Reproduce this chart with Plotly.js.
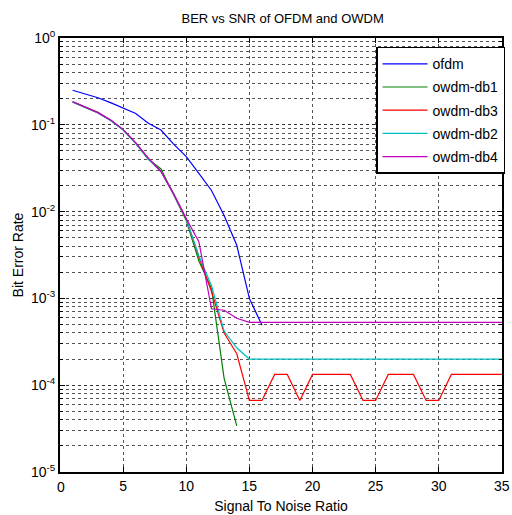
<!DOCTYPE html>
<html>
<head>
<meta charset="utf-8">
<script src="https://cdn.plot.ly/plotly-3.0.1.min.js"></script>
<style>html,body{margin:0;padding:0;background:#fff;}#chart{width:512px;height:515px;}</style>
</head>
<body>
<div id="chart"></div>
<script>
const snrOfdm = [1,2,3,4,5,6,7,8,9,10,11,12,13,14,15,16];
const berOfdm = [0.25,0.227,0.205,0.18,0.157,0.135,0.104,0.087,0.06,0.043,0.0275,0.0175,0.009,0.0041,0.001,0.00049];

const snrDb1 = [1,2,3,4,5,6,7,8,9,10,11,12,13,14];
const berDb1 = [0.184,0.16,0.139,0.113,0.088,0.061,0.040,0.031,0.016,0.0079,0.0027,0.0013,0.00012,0.000034];

const snrFull = [1,2,3,4,5,6,7,8,9,10,11,12,13,14,15,16,17,18,19,20,21,22,23,24,25,26,27,28,29,30,31,32,33,34,35];
const berDb3 = [0.183,0.16,0.138,0.113,0.088,0.062,0.041,0.029,0.016,0.0082,0.003,0.0012,0.0004,0.00023,
  0.0000667,0.0000667,0.000133,0.000133,0.0000667,0.000133,0.000133,0.000133,0.000133,0.0000667,0.0000667,
  0.000133,0.000133,0.000133,0.0000667,0.0000667,0.000133,0.000133,0.000133,0.000133,0.000133];
const berDb2 = [0.182,0.159,0.137,0.112,0.087,0.061,0.040,0.029,0.0158,0.0082,0.0031,0.0014,0.00042,0.00027,
  0.0002,0.0002,0.0002,0.0002,0.0002,0.0002,0.0002,0.0002,0.0002,0.0002,0.0002,
  0.0002,0.0002,0.0002,0.0002,0.0002,0.0002,0.0002,0.0002,0.0002,0.0002];
const berDb4 = [0.185,0.161,0.138,0.114,0.088,0.062,0.041,0.029,0.016,0.0083,0.0045,0.00076,0.00073,0.00059,
  0.00053,0.00053,0.00053,0.00053,0.00053,0.00053,0.00053,0.00053,0.00053,0.00053,0.00053,
  0.00053,0.00053,0.00053,0.00053,0.00053,0.00053,0.00053,0.00053,0.00053,0.00053];

const yTickVals = [1e-5,1e-4,1e-3,1e-2,1e-1,1];
const yTickText = ['10<sup>-5</sup>','10<sup>-4</sup>','10<sup>-3</sup>','10<sup>-2</sup>','10<sup>-1</sup>','10<sup>0</sup>'];
const xTickVals = [5,10,15,20,25,30,35];
const xTickText = ['5','10','15','20','25','30','35'];
const xOriginLabel = '0';

const FONT = 'Liberation Sans, Arial, sans-serif';

function tr(x, y, name, color, g) {
  return {x: x, y: y, name: name, type: 'scatter', mode: 'lines',
    line: {color: color, width: 1.2}, legendgroup: g};
}

const data = [
  tr(snrOfdm, berOfdm, 'ofdm', '#0000ff', 'a'),
  tr(snrDb1, berDb1, 'owdm-db1', '#008000', 'b'),
  tr(snrFull, berDb3, 'owdm-db3', '#ff0000', 'c'),
  tr(snrFull, berDb2, 'owdm-db2', '#00bfbf', 'd'),
  tr(snrFull, berDb4, 'owdm-db4', '#bf00bf', 'e')
];

const layout = {
  width: 512, height: 515,
  margin: {l: 60, r: 7, t: 38, b: 43, pad: 0},
  paper_bgcolor: '#fff', plot_bgcolor: '#fff',
  font: {family: FONT, size: 14, color: '#000'},
  title: {text: 'BER vs SNR of OFDM and OWDM', font: {family: FONT, size: 13}, x: 0.552, xanchor: 'center', y: 0.965, yanchor: 'middle'},
  showlegend: true,
  legend: {x: 0.715, y: 0.98, xanchor: 'left', yanchor: 'top', bgcolor: '#fff',
    bordercolor: '#000', borderwidth: 1.5, font: {family: FONT, size: 14}, tracegroupgap: 2, itemwidth: 45},
  xaxis: {range: [0, 35.01], tickvals: xTickVals, ticktext: xTickText, ticks: 'inside', ticklen: 5, tickcolor: '#000',
    showline: true, linecolor: '#000', linewidth: 2, mirror: 'ticks',
    showgrid: true, gridcolor: '#555', griddash: 'dot', gridwidth: 1, zeroline: false,
    tickfont: {family: FONT, size: 14},
    title: {text: 'Signal To Noise Ratio', font: {family: FONT, size: 14}, standoff: 8}},
  yaxis: {type: 'log', range: [-5, 0], tickvals: yTickVals, ticktext: yTickText,
    ticks: 'inside', ticklen: 5, tickcolor: '#000',
    showline: true, linecolor: '#000', linewidth: 2, mirror: 'ticks',
    showgrid: true, gridcolor: '#333', griddash: 'dot', gridwidth: 1, zeroline: false,
    tickfont: {family: FONT, size: 14},
    minor: {dtick: 'D1', showgrid: true, gridcolor: '#555', griddash: 'dot', gridwidth: 1, ticks: 'inside', ticklen: 3, tickcolor: '#000'},
    title: {text: 'Bit Error Rate', font: {family: FONT, size: 14}, standoff: 4}},
  annotations: [{text: xOriginLabel, x: 0.003, xref: 'paper', y: -0.012, yref: 'paper', xanchor: 'center', yanchor: 'top',
    showarrow: false, font: {family: FONT, size: 14, color: '#000'}}]
};

Plotly.newPlot('chart', data, layout, {staticPlot: true, displayModeBar: false});
</script>
</body>
</html>
